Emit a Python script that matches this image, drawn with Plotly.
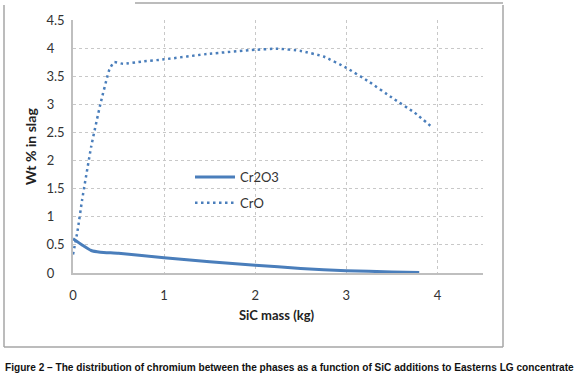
import plotly.graph_objects as go

# ---- data ----
cr2o3_x = [0.0, 0.1, 0.2, 0.3, 0.5, 1.0, 1.5, 2.0, 2.5, 3.0, 3.5, 3.8]
cr2o3_y = [0.61, 0.50, 0.40, 0.37, 0.35, 0.27, 0.20, 0.14, 0.08, 0.04, 0.02, 0.01]

cro_x = [0.0, 0.05, 0.1, 0.2, 0.3, 0.4, 0.45, 0.55, 0.75, 1.0, 1.5, 2.0, 2.25,
         2.5, 2.75, 3.0, 3.25, 3.5, 3.75, 3.95]
cro_y = [0.33, 0.75, 1.30, 2.25, 3.00, 3.62, 3.75, 3.72, 3.76, 3.80, 3.90, 3.97,
         3.99, 3.95, 3.85, 3.65, 3.40, 3.12, 2.85, 2.58]

x_ticks = [0, 1, 2, 3, 4]
y_ticks = [0, 0.5, 1, 1.5, 2, 2.5, 3, 3.5, 4, 4.5]
y_tick_labels = ["0", "0.5", "1", "1.5", "2", "2.5", "3", "3.5", "4", "4.5"]

x_title = "SiC mass (kg)"
y_title = "Wt % in slag"
caption = "Figure 2 \u2013 The distribution of chromium between the phases as a function of SiC additions to Easterns LG concentrate"

BLUE = "#4a7ebb"
GRID = "#c8c8c8"
FONT = "Lato, Open Sans, sans-serif"

# ---- figure ----
W, H = 578, 388
ml, mr, mt, mb = 73, 95, 20, 115
pw, ph = W - ml - mr, H - mt - mb


def px(x):
    return (x - ml) / pw


def py(y):
    return (H - mb - y) / ph


fig = go.Figure()
fig.add_trace(go.Scatter(x=cr2o3_x, y=cr2o3_y, mode="lines", name="Cr2O3",
                         line=dict(color=BLUE, width=3, shape="spline", smoothing=0.5),
                         legendgroup="a"))
fig.add_trace(go.Scatter(x=cro_x, y=cro_y, mode="lines", name="CrO",
                         line=dict(color=BLUE, width=2.5, dash="2.5px,3.5px",
                                   shape="spline", smoothing=0.4),
                         legendgroup="b"))

# pad short labels so they look centred like the original
ticktext = [t + ("\u2007\u2008" if "." not in t else "") for t in y_tick_labels]

fig.update_layout(
    width=W, height=H,
    margin=dict(l=ml, r=mr, t=mt, b=mb),
    paper_bgcolor="white", plot_bgcolor="white",
    font=dict(family=FONT, size=13, color="#333333"),
    showlegend=True,
    legend=dict(x=px(190), y=py(162), xanchor="left", yanchor="top",
                bgcolor="rgba(0,0,0,0)", font=dict(size=13, color="#333333"),
                tracegroupgap=6, itemwidth=40),
    xaxis=dict(range=[0, 4.5], tickvals=x_ticks, showgrid=True, gridcolor=GRID,
               griddash="dot", gridwidth=1, zeroline=False, showline=True,
               linecolor="#bfbfbf", linewidth=1.5, ticks="", ticklabelstandoff=10,
               tickfont=dict(size=13, color="#333333")),
    yaxis=dict(range=[0, 4.5], tickvals=y_ticks, ticktext=ticktext, showgrid=True,
               gridcolor=GRID, griddash="dot", gridwidth=1, zeroline=False,
               showline=True, linecolor="#bfbfbf", linewidth=1.5, ticks="",
               ticklabelstandoff=4, tickfont=dict(size=13, color="#333333")),
)

# axis titles
fig.add_annotation(x=px(277), y=py(315), xref="paper", yref="paper", text="<b>" + x_title + "</b>",
                   showarrow=False, xanchor="center", yanchor="middle",
                   font=dict(size=13, color="#222222", family=FONT))
fig.add_annotation(x=px(30), y=py(147), xref="paper", yref="paper", text="<b>" + y_title + "</b>",
                   showarrow=False, textangle=-90, xanchor="center", yanchor="middle",
                   font=dict(size=14, color="#222222", family=FONT))

# caption
fig.add_annotation(x=px(3), y=py(367), xref="paper", yref="paper", text="<b>" + caption + "</b>",
                   showarrow=False, xanchor="left", yanchor="middle",
                   font=dict(size=10.1, color="#111111", family="Liberation Sans Narrow, Arial Narrow, sans-serif"))

# outer chart frame
FR = "#a6a6a6"
for (x0, y0, x1, y1) in [(4, 5, 4, 347), (4, 347, 503, 347), (503, 5, 503, 347), (135, 3, 503, 3)]:
    fig.add_shape(type="line", xref="paper", yref="paper",
                  x0=px(x0), y0=py(y0), x1=px(x1), y1=py(y1),
                  line=dict(color=FR, width=1.5))

fig.write_html("out.html", config={"displayModeBar": False},
               post_script="document.body.style.margin='0';document.body.style.overflow='hidden';")
